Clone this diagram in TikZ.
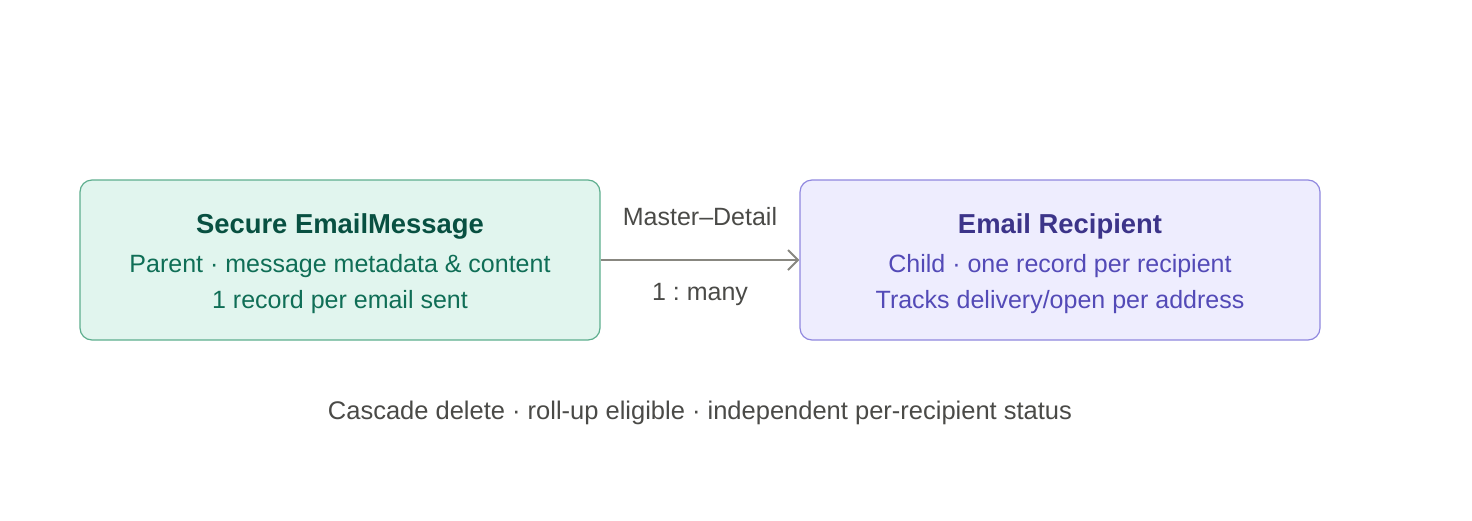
\documentclass[tikz,border=0pt]{standalone}
\usepackage{fontspec}
\setmainfont{Liberation Sans}
\usetikzlibrary{arrows.meta}
\frenchspacing

\definecolor{parentfill}{HTML}{E1F5EE}
\definecolor{parentdraw}{HTML}{5DAE8E}
\definecolor{parenttitle}{HTML}{085041}
\definecolor{parenttext}{HTML}{0F6E56}
\definecolor{childfill}{HTML}{EEEDFE}
\definecolor{childdraw}{HTML}{8F87DF}
\definecolor{childtitle}{HTML}{3C3489}
\definecolor{childtext}{HTML}{534AB7}
\definecolor{linkgray}{HTML}{888780}
\definecolor{notegray}{HTML}{4A4A47}

\tikzset{
    entity/.style={draw, rounded corners=12pt, line width=1.2pt,
        minimum width=520pt, minimum height=160pt, inner sep=0pt},
    title/.style={font=\fontsize{27.4}{32}\selectfont\bfseries},
    detail/.style={font=\fontsize{25}{30}\selectfont},
    note/.style={font=\fontsize{25}{30}\selectfont, text=notegray}
}

\begin{document}
\begin{tikzpicture}[x=1pt, y=-1pt]
    \useasboundingbox (0, 0) rectangle (1472, 520);

    \node[entity, fill=parentfill, draw=parentdraw] (parent) at (340, 260) {};
    \node[title, text=parenttitle] (parent-title) at (340, 226) {Secure
        EmailMessage};
    \node[detail, text=parenttext] (parent-role) at (340, 266) {Parent
        \textperiodcentered{} message metadata \& content};
    \node[detail, text=parenttext] (parent-count) at (340, 302) {1 record per
        email sent};

    \node[entity, fill=childfill, draw=childdraw] (child) at (1060, 260) {};
    \node[title, text=childtitle] (child-title) at (1060, 226) {Email
        Recipient};
    \node[detail, text=childtext] (child-role) at (1060, 266) {Child
        \textperiodcentered{} one record per recipient};
    \node[detail, text=childtext] (child-track) at (1060, 302) {Tracks
        delivery/open per address};

    \draw[-{Straight Barb[length=10pt, width=20pt, line width=2pt]},
        line width=2.2pt, draw=linkgray] (parent) -- (child)
        node[midway, above=30pt, note] (kind) {Master--Detail}
        node[midway, below=19pt, note] (card) {1 : many};

    \node[note, font=\fontsize{25.5}{30}\selectfont] (summary) at (700, 413)
        {Cascade delete \textperiodcentered{} roll-up eligible
        \textperiodcentered{} independent per-recipient status};
\end{tikzpicture}
\end{document}
